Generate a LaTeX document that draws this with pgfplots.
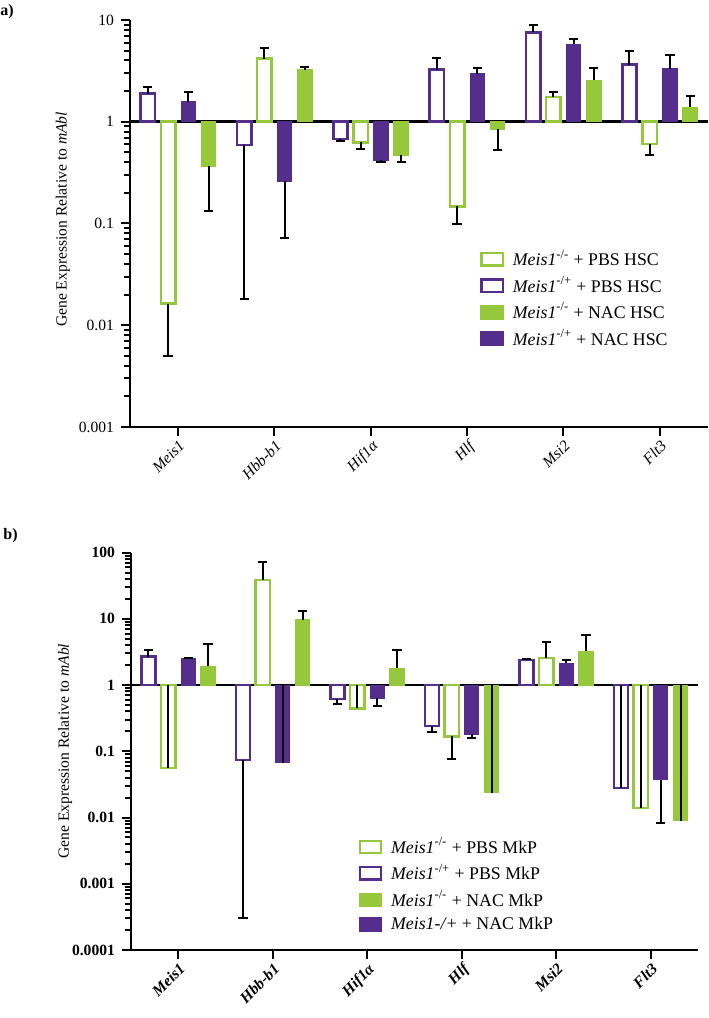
\documentclass[border=0pt]{standalone}
\usepackage{fontspec}
\setmainfont{Liberation Serif}
\usepackage{pgfplots}
\pgfplotsset{compat=1.18}
\definecolor{mgreen}{RGB}{150,200,60}
\definecolor{mpurple}{RGB}{85,45,140}
\newcommand\fs{\fontsize{7.8}{9}\selectfont}
\newcommand\lfs{\fontsize{8.9}{10}\selectfont}
\pgfplotsset{
  every axis/.append style={
    scale only axis, log origin y=0,
    xmin=-0.5, xmax=5.5, xtick={0,1,2,3,4,5},
    xticklabels={Meis1,Hbb-b1,Hif1α,Hlf,Msi2,Flt3},
    axis x line*=bottom, axis y line*=left,
    axis line style={black, line width=1.3pt},
    ticklabel style={font=\fs},
    xticklabel style={rotate=45, anchor=north east, font=\itshape\fs, inner sep=1pt},
    extra y ticks={1}, extra y tick labels={},
    extra y tick style={grid=major, major grid style={black, line width=1.3pt}},
    ylabel={Gene Expression Relative to \textit{mAbl}},
    ylabel style={font=\fs, at={(axis description cs:-0.116,0.51)}, anchor=center},
    legend style={draw=none, fill=none, font=\lfs, anchor=north west, row sep=1.4pt,
      column sep=2.5pt, nodes={inner xsep=2pt, inner ysep=1.2pt}, cells={anchor=west}},
    legend image code/.code={\draw[##1, line width=1.2pt] (0pt,-3.1pt) rectangle (10.6pt,3.1pt);},
  },
  myGO/.style={ybar, bar width=0.15, bar shift=-0.105, draw=mgreen, fill=white, line width=1.25pt},
  myPO/.style={ybar, bar width=0.15, bar shift=-0.315, draw=mpurple, fill=white, line width=1.25pt},
  myGF/.style={ybar, bar width=0.15, bar shift=0.315, draw=mgreen, fill=mgreen, line width=0.5pt},
  myPF/.style={ybar, bar width=0.15, bar shift=0.105, draw=mpurple, fill=mpurple, line width=0.5pt},
  myErr/.style 2 args={draw=none, mark=none, forget plot, x filter/.expression={x+#1},
    error bars/y dir=#2, error bars/y explicit,
    error bars/error bar style={draw=black, line width=1pt},
    error bars/error mark options={draw=black, rotate=90, mark size=2.3pt, line width=1pt}},
  myErrIn/.style={draw=none, mark=none, forget plot, x filter/.expression={x+#1},
    error bars/y dir=plus, error bars/y explicit,
    error bars/error bar style={draw=black, line width=1pt},
    error bars/error mark=none},
}
\begin{document}
\begin{tikzpicture}
\useasboundingbox (0,0) rectangle (354pt,509pt);
\node[anchor=north west, font=\bfseries\fontsize{8}{9}\selectfont, inner sep=0pt] at (0pt,507pt) {a)};
\node[anchor=north west, font=\bfseries\fontsize{8}{9}\selectfont, inner sep=0pt] at (1.5pt,245pt) {b)};

% panel a: HSC
\begin{semilogyaxis}[at={(65pt,295.5pt)}, width=289pt, height=203.5pt,
  ymin=0.001, ymax=10,
  xmajorticks=true, ymajorticks=true, yminorticks=true,
  xtick pos=left, ytick pos=left,
  tick align=outside, tickwidth=4.5pt, subtickwidth=3pt,
  tick style={black, line width=1pt}, minor tick style={black, line width=1pt},
  ytick={0.001,0.01,0.1,1,10}, yticklabels={0.001,0.01,0.1,1,10},
  minor ytick={0.002,0.003,0.004,0.005,0.006,0.007,0.008,0.009,
    0.02,0.03,0.04,0.05,0.06,0.07,0.08,0.09,
    0.2,0.3,0.4,0.5,0.6,0.7,0.8,0.9,2,3,4,5,6,7,8,9},
  legend style={at={(0.595,0.452)}}]
\addplot[myGO] coordinates {(0,0.0163) (1,4.17) (2,0.627) (3,0.147) (4,1.75) (5,0.604)};
\addlegendentry{\textit{Meis1}\textsuperscript{-/-} + PBS HSC}
\addplot[myPO] coordinates {(0,1.89) (1,0.59) (2,0.676) (3,3.26) (4,7.57) (5,3.65)};
\addlegendentry{\textit{Meis1}\textsuperscript{-/+} + PBS HSC}
\addplot[myGF] coordinates {(0,0.365) (1,3.26) (2,0.471) (3,0.84) (4,2.56) (5,1.39)};
\addlegendentry{\textit{Meis1}\textsuperscript{-/-} + NAC HSC}
\addplot[myPF] coordinates {(0,1.58) (1,0.26) (2,0.418) (3,2.95) (4,5.77) (5,3.31)};
\addlegendentry{\textit{Meis1}\textsuperscript{-/+} + NAC HSC}
% error bars
\addplot[myErr={-0.105}{plus}] coordinates {(1,4.17) +- (0,1.18) (4,1.75) +- (0,0.19)};
\addplot[myErr={-0.105}{minus}] coordinates {(0,0.0163) +- (0,0.0113) (2,0.627) +- (0,0.084) (3,0.147) +- (0,0.049) (5,0.604) +- (0,0.136)};
\addplot[myErr={-0.315}{plus}] coordinates {(0,1.89) +- (0,0.30) (3,3.26) +- (0,0.95) (4,7.57) +- (0,1.36) (5,3.65) +- (0,1.32)};
\addplot[myErr={-0.315}{minus}] coordinates {(1,0.59) +- (0,0.572) (2,0.676) +- (0,0.029)};
\addplot[myErr={0.315}{plus}] coordinates {(1,3.26) +- (0,0.22) (4,2.56) +- (0,0.85) (5,1.39) +- (0,0.40)};
\addplot[myErr={0.315}{minus}] coordinates {(0,0.365) +- (0,0.231) (2,0.471) +- (0,0.072) (3,0.84) +- (0,0.31)};
\addplot[myErr={0.105}{plus}] coordinates {(0,1.58) +- (0,0.40) (3,2.95) +- (0,0.43) (4,5.77) +- (0,0.79) (5,3.31) +- (0,1.26)};
\addplot[myErr={0.105}{minus}] coordinates {(1,0.26) +- (0,0.188) (2,0.418) +- (0,0.013)};
\end{semilogyaxis}

% panel b: MkP
\begin{semilogyaxis}[at={(65.5pt,34pt)}, width=283.5pt, height=198.7pt,
  ymin=0.0001, ymax=100,
  xmajorticks=true, ymajorticks=true, yminorticks=true,
  xtick pos=left, ytick pos=left,
  tick align=outside, tickwidth=4.5pt, subtickwidth=3pt,
  tick style={black, line width=1pt}, minor tick style={black, line width=1pt},
  ytick={0.0001,0.001,0.01,0.1,1,10,100}, yticklabels={0.0001,0.001,0.01,0.1,1,10,100},
  minor ytick={0.0002,0.0003,0.0004,0.0005,0.0006,0.0007,0.0008,0.0009,
    0.002,0.003,0.004,0.005,0.006,0.007,0.008,0.009,
    0.02,0.03,0.04,0.05,0.06,0.07,0.08,0.09,
    0.2,0.3,0.4,0.5,0.6,0.7,0.8,0.9,2,3,4,5,6,7,8,9,
    20,30,40,50,60,70,80,90},
  yticklabel style={font=\bfseries\fs},
  xticklabel style={font=\bfseries\itshape\fs},
  ylabel style={at={(axis description cs:-0.116,0.50)}},
  legend style={at={(0.39,0.3)}}]
\addplot[myGO] coordinates {(0,0.056) (1,38.7) (2,0.445) (3,0.168) (4,2.58) (5,0.014)};
\addlegendentry{\textit{Meis1}\textsuperscript{-/-} + PBS MkP}
\addplot[myPO] coordinates {(0,2.7) (1,0.074) (2,0.62) (3,0.241) (4,2.41) (5,0.028)};
\addlegendentry{\textit{Meis1}\textsuperscript{-/+} + PBS MkP}
\addplot[myGF] coordinates {(0,1.91) (1,9.77) (2,1.78) (3,0.0235) (4,3.26) (5,0.009)};
\addlegendentry{\textit{Meis1}\textsuperscript{-/-} + NAC MkP}
\addplot[myPF] coordinates {(0,2.49) (1,0.0675) (2,0.637) (3,0.182) (4,2.12) (5,0.0374)};
\addlegendentry{\textit{Meis1-/+} + NAC MkP}
% error bars
\addplot[myErr={-0.105}{plus}] coordinates {(1,38.7) +- (0,32.8) (4,2.58) +- (0,1.87)};
\addplot[myErr={-0.105}{minus}] coordinates {(3,0.168) +- (0,0.091)};
\addplot[myErrIn={-0.105}] coordinates {(0,0.056) +- (0,0.944) (2,0.445) +- (0,0.555) (5,0.014) +- (0,0.986)};
\addplot[myErr={-0.315}{plus}] coordinates {(0,2.7) +- (0,0.71) (4,2.41) +- (0,0.05)};
\addplot[myErr={-0.315}{minus}] coordinates {(1,0.074) +- (0,0.0737) (2,0.62) +- (0,0.10) (3,0.241) +- (0,0.048)};
\addplot[myErrIn={-0.315}] coordinates {(5,0.028) +- (0,0.972)};
\addplot[myErr={0.315}{plus}] coordinates {(0,1.91) +- (0,2.19) (1,9.77) +- (0,3.23) (2,1.78) +- (0,1.59) (4,3.26) +- (0,2.54)};
\addplot[myErrIn={0.315}] coordinates {(3,0.0235) +- (0,0.9765) (5,0.009) +- (0,0.991)};
\addplot[myErr={0.105}{plus}] coordinates {(0,2.49) +- (0,0.09) (4,2.12) +- (0,0.23)};
\addplot[myErr={0.105}{minus}] coordinates {(2,0.637) +- (0,0.16) (3,0.182) +- (0,0.025) (5,0.0374) +- (0,0.0292)};
\addplot[myErrIn={0.105}] coordinates {(1,0.0675) +- (0,0.9325)};
\end{semilogyaxis}
\end{tikzpicture}
\end{document}
